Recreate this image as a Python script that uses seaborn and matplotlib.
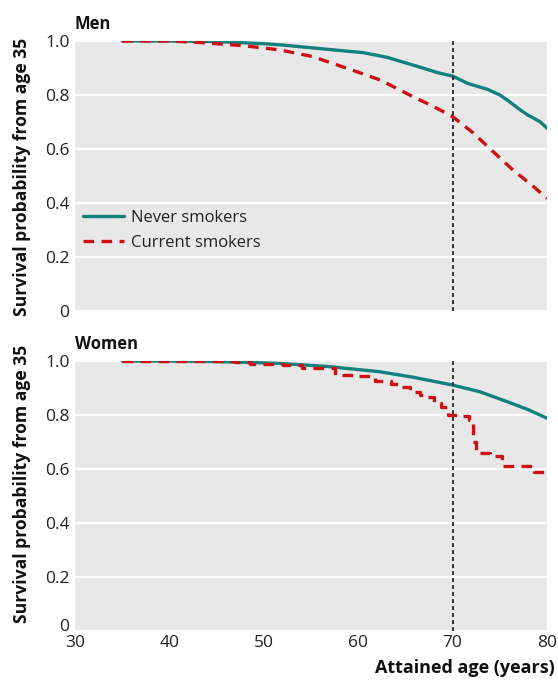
import numpy as np
import pandas as pd
import matplotlib
matplotlib.use("Agg")
import matplotlib.pyplot as plt
import matplotlib.transforms as mtransforms
import seaborn as sns

# ---- data ----
men_never_age = [35, 40, 45, 50, 52, 55, 58, 60.5, 63, 65.8, 68.4, 70, 71.6, 73.7, 75, 75.8, 77.2, 78, 78.6, 79.3, 80]
men_never_surv = [1.0, 1.0, 0.998, 0.99, 0.985, 0.975, 0.965, 0.957, 0.94, 0.911, 0.883, 0.870, 0.843, 0.821, 0.80, 0.781, 0.744, 0.725, 0.714, 0.70, 0.677]

men_curr_age = [35, 40, 43, 45, 48, 50, 51.7, 55.2, 58.8, 62.3, 65.8, 68, 70, 72.2, 74.3, 76.4, 78.6, 80]
men_curr_surv = [1.0, 1.0, 0.995, 0.99, 0.982, 0.974, 0.967, 0.942, 0.899, 0.856, 0.794, 0.757, 0.720, 0.659, 0.590, 0.522, 0.460, 0.417]

women_never_age = [35, 40, 45, 50, 51.7, 57, 62.3, 65.8, 70, 72.9, 75.8, 78, 80]
women_never_surv = [1.0, 1.0, 0.998, 0.993, 0.991, 0.979, 0.960, 0.940, 0.911, 0.886, 0.849, 0.82, 0.788]

women_curr_age = [35, 45, 47, 48.5, 52, 54, 57.5, 59.5, 61.8, 63.5, 64.2, 65.5, 66.5, 67.2, 68, 68.8, 69.5, 71, 71.7, 72.2, 72.5, 74, 75.2, 78.6, 80]
women_curr_surv = [1.0, 1.0, 0.997, 0.99, 0.985, 0.975, 0.95, 0.945, 0.925, 0.915, 0.905, 0.885, 0.875, 0.865, 0.845, 0.83, 0.80, 0.795, 0.78, 0.70, 0.66, 0.65, 0.612, 0.59, 0.59]

y_ticks = [0, 0.2, 0.4, 0.6, 0.8, 1.0]
y_ticklabels = ["0", "0.2", "0.4", "0.6", "0.8", "1.0"]
x_ticks = [30, 40, 50, 60, 70, 80]
x_ticklabels = ["30", "40", "50", "60", "70", "80"]
panel_titles = ["Men", "Women"]
series_labels = ["Never smokers", "Current smokers"]
y_label = "Survival probability from age 35"
x_label = "Attained age (years)"

TEAL = "#12807d"
RED = "#cc1014"
BG = "#e8e8e8"
TXT = "#222222"

sns.set_theme(style="white")
plt.rcParams["font.family"] = ["Open Sans", "DejaVu Sans"]

fig = plt.figure(figsize=(5.58, 6.85), dpi=100)
W, H = 558, 685
def fr(x0, y0, x1, y1):
    return [x0 / W, 1 - y1 / H, (x1 - x0) / W, (y1 - y0) / H]

ax1 = fig.add_axes(fr(75, 41, 547, 311))
ax2 = fig.add_axes(fr(75, 361, 547, 631))

panels = [
    (ax1, men_never_age, men_never_surv, men_curr_age, men_curr_surv, "default", 177),
    (ax2, women_never_age, women_never_surv, women_curr_age, women_curr_surv, "steps-post", 484),
]

for i, (ax, na, ns, ca, cs, ds, ylab_y) in enumerate(panels):
    ax.set_facecolor(BG)
    for sp in ax.spines.values():
        sp.set_visible(False)
    dn = pd.DataFrame({"age": na, "surv": ns})
    dc = pd.DataFrame({"age": ca, "surv": cs})
    sns.lineplot(data=dn, x="age", y="surv", ax=ax, color=TEAL, lw=2.4,
                 estimator=None, sort=False, label=series_labels[0])
    sns.lineplot(data=dc, x="age", y="surv", ax=ax, color=RED, lw=2.4,
                 estimator=None, sort=False, label=series_labels[1],
                 drawstyle=ds)
    ax.lines[-1].set_dashes([3.2, 2.2])
    ax.axvline(70, color="#333333", lw=1.4, dashes=(2.0, 1.6), zorder=3)
    ax.set_xlim(30, 80)
    ax.set_ylim(0, 1.0)
    ax.set_yticks(y_ticks)
    ax.set_yticklabels(y_ticklabels)
    ax.set_xticks(x_ticks)
    ax.grid(axis="y", color="white", lw=1.6)
    ax.grid(axis="x", visible=False)
    ax.set_axisbelow(True)
    ax.tick_params(axis="y", length=0, labelsize=12.5, pad=4, labelcolor=TXT)
    ax.tick_params(axis="x", direction="in", length=4, width=1.2, color="white",
                   labelsize=12.5, pad=3, labelcolor=TXT)
    ax.set_xlabel("")
    ax.set_ylabel("")
    ax.text(0.0, 1.03, panel_titles[i], transform=ax.transAxes, ha="left", va="bottom",
            fontsize=12, fontweight="bold", color="#111111")
    fig.text(22 / W, 1 - ylab_y / H, y_label, rotation=90,
             ha="center", va="center", fontsize=12.6, fontweight="bold", color="#111111")
    if i == 0:
        ax.set_xticklabels([])
        leg = ax.legend(loc="upper left", bbox_to_anchor=(-0.004, 0.41), frameon=False,
                        fontsize=12, handlelength=2.45, handletextpad=0.45,
                        labelspacing=0.52, borderaxespad=0.2)
        for t in leg.get_texts():
            t.set_color(TXT)
    else:
        ax.set_xticklabels(x_ticklabels)
        ax.get_legend().remove()
        # lift the "0" label slightly so it clears the x tick labels
        zero_lbl = ax.get_yticklabels()[0]
        zero_lbl.set_transform(zero_lbl.get_transform() +
                               mtransforms.ScaledTranslation(0, 6 / 100, fig.dpi_scale_trans))

fig.text(555 / W, 1 - 668 / H, x_label, ha="right", va="center",
         fontsize=13, fontweight="bold", color="#111111")

fig.savefig("out.png", dpi=100, facecolor="white")
